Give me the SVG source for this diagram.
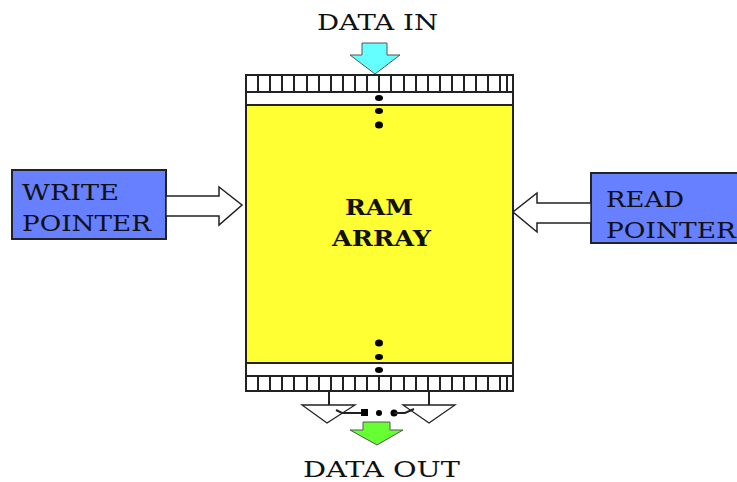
<svg xmlns="http://www.w3.org/2000/svg" width="737" height="482" viewBox="0 0 737 482">
<style>
.t{font-family:"DejaVu Serif","Liberation Serif",serif;font-size:22px;fill:#111}
.b{font-weight:bold}
.ln{stroke:#222;stroke-width:2;fill:none}
.thin{stroke:#222;stroke-width:1.3;fill:none}
.hollow{fill:#fff;stroke:#222;stroke-width:1.5}
.ptr{fill:#6680ff;stroke:#222;stroke-width:2}
</style>
<rect width="737" height="482" fill="#fff"/>
<g id="data-in">
<text class="t" x="317" y="30" textLength="121" lengthAdjust="spacingAndGlyphs">DATA IN</text>
</g>
<g id="ram-array">
<rect x="246" y="105" width="267" height="258" fill="#ffff33"/>
<rect x="246" y="92" width="267" height="13" fill="#fff" class="ln"/>
<rect x="246" y="363" width="267" height="13" fill="#fff" class="ln"/>
<rect x="246" y="75" width="267" height="17" fill="#fff" class="ln"/>
<rect x="246" y="376" width="267" height="15" fill="#fff" class="ln"/>
<path class="ln" stroke-width="2.5" d="M258,75V92M270,75V92M282,75V92M294,75V92M307,75V92M319,75V92M331,75V92M343,75V92M355,75V92M367,75V92M379,75V92M391,75V92M404,75V92M416,75V92M428,75V92M440,75V92M452,75V92M464,75V92M476,75V92M488,75V92M500,75V92M507,75V92"/>
<path class="ln" stroke-width="2.5" d="M258,376V391M270,376V391M282,376V391M294,376V391M307,376V391M319,376V391M331,376V391M343,376V391M355,376V391M367,376V391M379,376V391M391,376V391M404,376V391M416,376V391M428,376V391M440,376V391M452,376V391M464,376V391M476,376V391M488,376V391M500,376V391M507,376V391"/>
<line x1="246" y1="105" x2="246" y2="363" class="ln"/>
<line x1="513" y1="105" x2="513" y2="363" class="ln"/>
<g fill="#000">
<ellipse cx="379" cy="98" rx="4" ry="3"/>
<ellipse cx="379" cy="111" rx="4" ry="3"/>
<ellipse cx="379" cy="125" rx="4" ry="3.5"/>
<ellipse cx="379" cy="343" rx="4" ry="3.5"/>
<ellipse cx="379" cy="357" rx="4" ry="3"/>
<ellipse cx="379" cy="370" rx="4" ry="3"/>
</g>
<text class="t b" x="345" y="215" textLength="68" lengthAdjust="spacingAndGlyphs">RAM</text>
<text class="t b" x="332" y="246" textLength="99" lengthAdjust="spacingAndGlyphs">ARRAY</text>
</g>
<g id="write-pointer">
<rect x="12" y="170" width="154" height="69" class="ptr"/>
<text class="t" x="22" y="200" textLength="97" lengthAdjust="spacingAndGlyphs">WRITE</text>
<text class="t" x="22" y="231" textLength="129" lengthAdjust="spacingAndGlyphs">POINTER</text>
</g>
<g id="read-pointer">
<rect x="591" y="173" width="160" height="70" class="ptr"/>
<text class="t" x="606" y="207" textLength="78" lengthAdjust="spacingAndGlyphs">READ</text>
<text class="t" x="606" y="238" textLength="130" lengthAdjust="spacingAndGlyphs">POINTER</text>
</g>
<g id="data-out">
<text class="t" x="303" y="477" textLength="157" lengthAdjust="spacingAndGlyphs">DATA OUT</text>
</g>
<g id="connectors">
<path d="M362,43H387V55H400L375,74L350,55H362Z" fill="#66ffff" stroke="#555" stroke-width="1"/>
<path class="hollow" d="M166,196H219V187L242,205L219,225V216H166Z"/>
<path class="hollow" d="M591,203H537V193L513,212L537,232V223H591Z"/>
<path class="ln" d="M329,391V405M429,391V405"/>
<path class="thin" d="M302,405H355L327,423Z"/>
<path class="thin" d="M403,405H455L429,423Z"/>
<path class="ln" d="M336,410L342,413H362"/>
<rect x="361" y="409" width="7" height="7" fill="#000"/>
<circle cx="379" cy="413" r="3" fill="#000"/>
<circle cx="394" cy="413" r="3.5" fill="#000"/>
<path class="ln" d="M394,413H405L414,409"/>
<path d="M363,422H390V430H403L377,445L350,430H363Z" fill="#66ff33" stroke="#555" stroke-width="1"/>
</g>
</svg>
